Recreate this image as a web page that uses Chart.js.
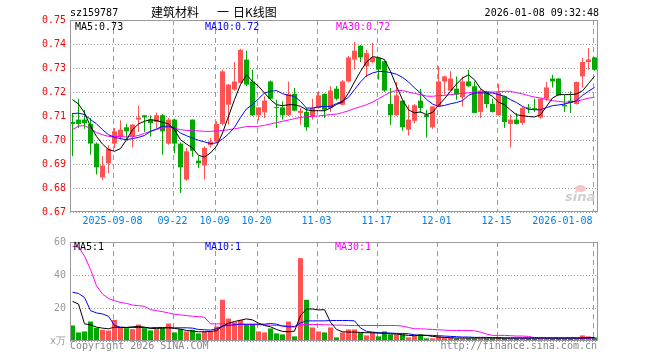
<!DOCTYPE html>
<html>
<head>
<meta charset="utf-8">
<script src="https://cdn.jsdelivr.net/npm/chart.js@4.4.1/dist/chart.umd.min.js"></script>
<style>
  body{margin:0;background:#fff;}
  #box{position:relative;width:660px;height:360px;overflow:hidden;background:#fff;}
  canvas{position:absolute;left:0;}
  .t{position:absolute;font:10px/12px 'DejaVu Sans Mono',monospace;white-space:pre;color:#000;}
  .cn{position:absolute;font:12px/14px 'Noto Sans CJK SC',sans-serif;white-space:pre;color:#000;}
</style>
</head>
<body>
<div id="box">
  <canvas id="kChart" width="660" height="232" style="top:0"></canvas>
  <canvas id="volChart" width="660" height="128" style="top:232px"></canvas>

  <div class="t" style="left:70px;top:7px">sz159787</div>
  <div class="cn" style="left:151px;top:5px">建筑材料</div>
  <div class="cn" style="left:217px;top:5px">一</div>
  <div class="cn" style="left:233px;top:5px">日K线图</div>
  <div class="t" style="right:61px;top:7px">2026-01-08 09:32:48</div>

  <div class="t" style="left:75px;top:21px">MA5:0.73</div>
  <div class="t" style="left:205px;top:21px;color:#00f">MA10:0.72</div>
  <div class="t" style="left:336px;top:21px;color:#f0f">MA30:0.72</div>

  <div class="t" style="left:74px;top:241px">MA5:1</div>
  <div class="t" style="left:205px;top:241px;color:#00f">MA10:1</div>
  <div class="t" style="left:335px;top:241px;color:#f0f">MA30:1</div>

  <div class="t" style="left:70px;top:340px;color:#888">Copyright 2026 SINA.COM</div>
  <div class="t" style="right:63px;top:340px;color:#888">http://finance.sina.com.cn</div>

  <div style="position:absolute;left:575px;top:185px;width:11px;height:7px;border-radius:50%;background:#f6c6c6;"></div>
  <div style="position:absolute;left:565px;top:190px;font:italic bold 13px/14px 'DejaVu Sans',sans-serif;color:#cfcfcf;">sina</div>
</div>

<script>
// trading days shown
const dates = [
  '2025-08-28','2025-08-29',
  '2025-09-01','2025-09-02','2025-09-03','2025-09-04','2025-09-05','2025-09-08','2025-09-09','2025-09-10','2025-09-11','2025-09-12',
  '2025-09-15','2025-09-16','2025-09-17','2025-09-18','2025-09-19','2025-09-22','2025-09-23','2025-09-24','2025-09-25','2025-09-26',
  '2025-09-29','2025-09-30',
  '2025-10-09','2025-10-10','2025-10-13','2025-10-14','2025-10-15','2025-10-16','2025-10-17','2025-10-20','2025-10-21','2025-10-22',
  '2025-10-23','2025-10-24','2025-10-27','2025-10-28','2025-10-29','2025-10-30','2025-10-31',
  '2025-11-03','2025-11-04','2025-11-05','2025-11-06','2025-11-07','2025-11-10','2025-11-11','2025-11-12','2025-11-13','2025-11-14',
  '2025-11-17','2025-11-18','2025-11-19','2025-11-20','2025-11-21','2025-11-24','2025-11-25','2025-11-26','2025-11-27','2025-11-28',
  '2025-12-01','2025-12-02','2025-12-03','2025-12-04','2025-12-05','2025-12-08','2025-12-09','2025-12-10','2025-12-11','2025-12-12',
  '2025-12-15','2025-12-16','2025-12-17','2025-12-18','2025-12-19','2025-12-22','2025-12-23','2025-12-24','2025-12-25','2025-12-26',
  '2025-12-29','2025-12-30','2025-12-31',
  '2026-01-05','2026-01-06','2026-01-07','2026-01-08'
];

const open = [
  0.7075,0.7085,0.7085,0.7067,0.6985,0.6844,0.6903,0.6985,0.7013,0.7053,
  0.7015,0.7085,0.7103,0.7085,0.7075,0.7103,0.6985,0.7085,0.6985,0.6835,
  0.7085,0.6914,0.6894,0.6978,0.6994,0.7067,0.7147,0.7210,0.7238,0.7335,
  0.7244,0.7103,0.7115,0.7244,0.7136,0.7136,0.7103,0.7192,0.7113,0.7117,
  0.7099,0.7133,0.7192,0.7133,0.7214,0.7147,0.7244,0.7335,0.7393,0.7307,
  0.7325,0.7342,0.7328,0.7150,0.7103,0.7164,0.7043,0.7080,0.7164,0.7105,
  0.7053,0.7140,0.7244,0.7206,0.7214,0.7178,0.7244,0.7224,0.7117,0.7203,
  0.7150,0.7103,0.7182,0.7067,0.7085,0.7071,0.7136,0.7133,0.7094,0.7172,
  0.7256,0.7256,0.7147,0.7164,0.7150,0.7265,0.7325,0.7344
];
const high = [
  0.7112,0.7172,0.7126,0.7092,0.6990,0.6932,0.6978,0.7050,0.7082,0.7068,
  0.7068,0.7144,0.7103,0.7103,0.7115,0.7108,0.7092,0.7090,0.6990,0.6967,
  0.7085,0.6932,0.6974,0.7008,0.7078,0.7293,0.7233,0.7325,0.7380,0.7372,
  0.7293,0.7136,0.7182,0.7248,0.7168,0.7161,0.7244,0.7217,0.7133,0.7133,
  0.7172,0.7203,0.7195,0.7224,0.7225,0.7250,0.7350,0.7408,0.7395,0.7376,
  0.7404,0.7345,0.7330,0.7217,0.7242,0.7166,0.7147,0.7150,0.7214,0.7125,
  0.7140,0.7307,0.7268,0.7286,0.7265,0.7265,0.7293,0.7244,0.7214,0.7205,
  0.7172,0.7233,0.7184,0.7106,0.7112,0.7140,0.7150,0.7172,0.7174,0.7242,
  0.7272,0.7258,0.7189,0.7203,0.7244,0.7342,0.7383,0.7346
];
const low = [
  0.6932,0.7050,0.7047,0.6939,0.6856,0.6832,0.6862,0.6967,0.7001,0.7001,
  0.6969,0.7033,0.7033,0.7015,0.7050,0.6939,0.6980,0.6945,0.6779,0.6830,
  0.6930,0.6883,0.6835,0.6969,0.6987,0.7060,0.7064,0.7205,0.7235,0.7225,
  0.7100,0.7081,0.7092,0.7170,0.7050,0.7085,0.7100,0.7120,0.7064,0.7039,
  0.7085,0.7130,0.7092,0.7117,0.7165,0.7145,0.7240,0.7293,0.7325,0.7261,
  0.7320,0.7251,0.7200,0.7064,0.7100,0.7039,0.7019,0.7070,0.7113,0.7010,
  0.7047,0.7138,0.7189,0.7204,0.7168,0.7140,0.7222,0.7111,0.7092,0.7133,
  0.7115,0.7101,0.7050,0.6969,0.7065,0.7064,0.7113,0.7117,0.7089,0.7164,
  0.7219,0.7184,0.7117,0.7113,0.7148,0.7219,0.7293,0.7289
];
const close = [
  0.7067,0.7067,0.7070,0.6985,0.6886,0.6894,0.6964,0.7036,0.7043,0.7036,
  0.7064,0.7094,0.7094,0.7070,0.7103,0.7036,0.7085,0.6985,0.6886,0.6953,
  0.6955,0.6903,0.6967,0.6994,0.7067,0.7286,0.7231,0.7244,0.7376,0.7231,
  0.7103,0.7136,0.7164,0.7172,0.7133,0.7103,0.7192,0.7122,0.7122,0.7053,
  0.7133,0.7186,0.7126,0.7206,0.7172,0.7244,0.7344,0.7372,0.7344,0.7362,
  0.7344,0.7293,0.7206,0.7103,0.7186,0.7053,0.7085,0.7145,0.7133,0.7095,
  0.7140,0.7244,0.7265,0.7256,0.7189,0.7244,0.7224,0.7113,0.7206,0.7150,
  0.7117,0.7196,0.7075,0.7085,0.7067,0.7133,0.7131,0.7126,0.7172,0.7219,
  0.7244,0.7186,0.7140,0.7154,0.7242,0.7325,0.7336,0.7293
];

// price moving averages as drawn
const ma5 = [
  0.7168,0.7150,0.7113,0.7057,0.7015,0.6983,0.6960,0.6953,0.6964,0.7001,
  0.7043,0.7067,0.7078,0.7085,0.7081,0.7074,0.7067,0.7043,0.7001,0.6983,
  0.6967,0.6936,0.6929,0.6946,0.6974,0.7029,0.7099,0.7168,0.7231,0.7272,
  0.7244,0.7224,0.7196,0.7168,0.7147,0.7143,0.7147,0.7147,0.7140,0.7126,
  0.7122,0.7122,0.7122,0.7133,0.7148,0.7158,0.7196,0.7242,0.7286,0.7325,
  0.7347,0.7344,0.7335,0.7286,0.7224,0.7168,0.7126,0.7113,0.7117,0.7106,
  0.7115,0.7144,0.7172,0.7203,0.7233,0.7258,0.7272,0.7251,0.7214,0.7196,
  0.7182,0.7158,0.7147,0.7125,0.7105,0.7101,0.7098,0.7096,0.7105,0.7140,
  0.7175,0.7189,0.7189,0.7189,0.7192,0.7205,0.7235,0.7265
];
const ma10 = [
  0.7110,0.7112,0.7106,0.7085,0.7067,0.7043,0.7022,0.7011,0.7006,0.7001,
  0.7006,0.7011,0.7019,0.7036,0.7046,0.7057,0.7058,0.7050,0.7029,0.7018,
  0.7008,0.6999,0.6992,0.6985,0.6988,0.7004,0.7025,0.7053,0.7094,0.7130,
  0.7147,0.7172,0.7196,0.7203,0.7206,0.7193,0.7186,0.7182,0.7161,0.7133,
  0.7133,0.7138,0.7140,0.7140,0.7152,0.7162,0.7178,0.7210,0.7242,0.7268,
  0.7279,0.7286,0.7285,0.7281,0.7274,0.7261,0.7242,0.7217,0.7196,0.7169,
  0.7150,0.7140,0.7144,0.7151,0.7156,0.7164,0.7186,0.7196,0.7196,0.7196,
  0.7196,0.7189,0.7182,0.7168,0.7156,0.7140,0.7128,0.7126,0.7126,0.7135,
  0.7143,0.7146,0.7150,0.7156,0.7164,0.7186,0.7203,0.7219
];
const ma30 = [
  0.7043,0.7058,0.7060,0.7047,0.7031,0.7022,0.7015,0.7015,0.7014,0.7013,
  0.7014,0.7019,0.7028,0.7036,0.7044,0.7050,0.7053,0.7049,0.7043,0.7040,
  0.7039,0.7038,0.7036,0.7036,0.7038,0.7039,0.7043,0.7047,0.7051,0.7056,
  0.7056,0.7057,0.7061,0.7067,0.7072,0.7078,0.7083,0.7089,0.7094,0.7097,
  0.7099,0.7100,0.7103,0.7106,0.7108,0.7114,0.7122,0.7131,0.7139,0.7147,
  0.7158,0.7172,0.7186,0.7199,0.7206,0.7206,0.7200,0.7194,0.7189,0.7183,
  0.7182,0.7185,0.7186,0.7189,0.7192,0.7194,0.7197,0.7199,0.7200,0.7200,
  0.7200,0.7201,0.7203,0.7203,0.7197,0.7192,0.7185,0.7179,0.7175,0.7169,
  0.7164,0.7161,0.7158,0.7158,0.7161,0.7168,0.7174,0.7178
];

// volume, x万
const vol = [
  9.4,5.2,5.8,11.8,8,6.8,6.4,12.8,8,7.8,
  7.2,10,7.8,6.4,7.2,7.8,10.6,5.2,7.2,5.8,
  6.8,4.6,5.8,5.8,8.8,25,13.6,11.4,12.8,10.2,
  10.2,5.8,5.2,7.6,4.6,4,11.8,2.8,50.2,25,
  8.2,5.8,5.2,8.2,2.2,5.2,7,7,5,3.4,
  5,2.8,5.8,4,4,4,2.2,3.4,4,1.6,
  1.6,2.8,2.2,2.2,1.6,1.6,1.6,1.6,1.6,1.6,
  1.6,2.2,1.6,1.6,1.6,1.6,1.6,1.4,1.4,1.6,
  1.4,1.4,1.2,1.4,1.6,3.4,2.8,2.2
];
const volMa5 = [
  24,22.4,10.4,9.8,8.4,7.8,7.4,8.4,8.2,8.2,
  8.6,8.8,8.4,7.6,7.6,7.8,8,7.6,7.2,6.4,
  6,5.6,5.6,5.8,6.2,9,10.8,11.8,12.6,13.4,
  12.8,10.8,9.4,8.6,7,5.8,5.6,6,15.4,19.4,
  19.4,18.8,19,11.4,7,5.6,5.4,5.4,5.2,5,
  5,4.8,4.6,4.4,4.2,3.8,3.4,3.2,3.6,3.4,
  2.8,2.4,2.2,2,1.8,1.8,1.8,1.8,1.8,1.8,
  1.8,1.8,1.8,1.8,1.8,1.8,1.8,1.8,1.8,1.8,
  1.8,1.8,1.8,1.8,1.8,1.8,2,2.2
];
const volMa10 = [
  29.6,28.8,26.4,18.4,17,16.4,15,9.4,8.4,8.2,
  8.2,8.2,8.2,8,8.2,8.2,8.2,8,8,8,
  7.8,7,6.8,6.6,7.4,9,9.4,9.8,10.2,10.2,
  10.2,10.2,10.2,10.6,10.2,9,8.6,8.6,11,12.2,
  12.2,12.2,12.2,12.4,12.4,12.4,12.4,12.2,7.9,5.8,
  5.4,5,5,4.8,4.6,4.6,4.4,3.8,3.4,3.4,
  3.4,3.2,3,2.8,2.6,2.4,2.4,2.2,2.2,2.2,
  2,2,1.8,1.8,1.8,1.8,1.8,1.8,1.8,1.8,
  1.8,1.8,1.8,1.8,1.8,1.8,1.8,1.8
];
const volMa30 = [
  57.4,57,51.4,43.4,33.4,28.4,25.8,24.4,23.4,22.8,
  21.8,21.4,21,19,18.4,17.8,17,16.2,15.8,15.4,
  15,14.8,14.4,10.4,10.4,10.4,10.2,10.2,10,10,
  10,9.8,9.8,9.6,9.4,9.2,9,8.8,9.8,10,
  10,10,9.8,9.8,9.6,9.6,9.4,9.4,9.4,9.4,
  9.4,9.4,9.4,9.4,9.4,9,8.2,7.4,7.4,7.2,
  7,6.8,6.6,6.4,6.4,6.4,6.4,6.2,5.4,4.2,
  3.4,3.4,3.4,3.2,3,3,2.8,2,1.8,1.8,
  1.8,1.8,1.8,1.8,1.8,1.8,1.8,1.8
];

const tickDates = ['2025-09-08','2025-09-22','2025-10-09','2025-10-20','2025-11-03','2025-11-17','2025-12-01','2025-12-15','2026-01-08'];
const tickText  = ['2025-09-08','09-22','10-09','10-20','11-03','11-17','12-01','12-15','2026-01-08'];
const priceTicks = [0.67,0.68,0.69,0.70,0.71,0.72,0.73,0.74,0.75];
const volTicks = [0,20,40,60];

const RED = '#ff5353', GREEN = '#00a800';
const MONO = "'DejaVu Sans Mono', monospace";
const tickPos = tickDates.map(d => dates.indexOf(d));
const candleColor = close.map((c,i) => c >= open[i] ? RED : GREEN);
const X_MIN = -0.4167, X_MAX = dates.length - 0.4167;

// dotted rows + dashed date columns under the marks, grey frame on top
function makeFrame(rowValues){
  return {
    id:'frame',
    beforeDatasetsDraw(chart){
      const {ctx, chartArea:a} = chart;
      const sx = chart.scales.x, sy = chart.scales.y;
      ctx.save();
      ctx.strokeStyle = '#9a9a9a';
      ctx.lineWidth = 1;
      ctx.setLineDash([1,2]);
      rowValues.forEach(v => {
        const py = Math.round(sy.getPixelForValue(v)) + 0.5;
        ctx.beginPath(); ctx.moveTo(a.left, py); ctx.lineTo(a.right, py); ctx.stroke();
      });
      ctx.setLineDash([5,4]);
      tickPos.forEach(i => {
        const px = Math.round(sx.getPixelForValue(i - 0.33)) + 0.5;
        ctx.beginPath(); ctx.moveTo(px, a.top); ctx.lineTo(px, a.bottom); ctx.stroke();
      });
      ctx.restore();
    },
    afterDraw(chart){
      const {ctx, chartArea:a} = chart;
      ctx.save();
      ctx.strokeStyle = '#999';
      ctx.lineWidth = 1;
      ctx.setLineDash([]);
      ctx.strokeRect(a.left+0.5, a.top+0.5, a.right-a.left-1, a.bottom-a.top-1);
      ctx.restore();
    }
  };
}

function xAxis(showLabels, h){
  return {
    type:'linear', bounds:'data', offset:false, min:X_MIN, max:X_MAX,
    afterBuildTicks: s => { s.ticks = tickPos.map(i => ({value:i-0.33})); },
    afterFit: s => { s.height = h; },
    grid:{display:false, offset:false, drawTicks:false},
    border:{display:false},
    ticks:{
      display:showLabels, autoSkip:false, maxRotation:0, padding:3,
      color:'#0080e0', font:{family:MONO, size:10},
      // last label sits left of its line
      callback:(v,i) => i === tickText.length-1 ? tickText[i] + ' '.repeat(10) : tickText[i]
    }
  };
}

const line = (data, color) => ({
  type:'line', data:data.map((v,i)=>({x:i,y:v})),
  borderColor:color, borderWidth:1, pointRadius:0, tension:0, order:0
});

new Chart(document.getElementById('kChart').getContext('2d'), {
  data:{
    datasets:[
      {type:'bar', data:dates.map((d,i)=>({x:i,y:[low[i],high[i]]})),
       backgroundColor:candleColor, barThickness:1, grouped:false, inflateAmount:0, order:2},
      {type:'bar', data:dates.map((d,i)=>({x:i,y:[open[i],close[i]]})),
       backgroundColor:candleColor, barThickness:5, minBarLength:1, grouped:false, inflateAmount:0, order:1},
      line(ma5,'#000'),
      line(ma10,'#00f'),
      line(ma30,'#f0f')
    ]
  },
  options:{
    responsive:false, devicePixelRatio:1, animation:false, events:[],
    layout:{padding:{left:0,right:62,top:20,bottom:0}},
    plugins:{legend:{display:false}, tooltip:{enabled:false}},
    scales:{
      x:xAxis(true, 20),
      y:{
        min:0.67, max:0.75,
        afterBuildTicks: s => { s.ticks = priceTicks.map(v => ({value:v})); },
        afterFit: s => { s.width = 70; },
        grid:{display:false, drawTicks:false},
        border:{display:false},
        ticks:{color:'#f00', padding:4, font:{family:MONO, size:10}, callback:v => v.toFixed(2)}
      }
    }
  },
  plugins:[makeFrame(priceTicks)]
});

new Chart(document.getElementById('volChart').getContext('2d'), {
  data:{
    datasets:[
      {type:'bar', data:vol.map((v,i)=>({x:i,y:v})),
       backgroundColor:candleColor, barThickness:5, inflateAmount:0, order:1},
      line(volMa5,'#000'),
      line(volMa10,'#00f'),
      line(volMa30,'#f0f')
    ]
  },
  options:{
    responsive:false, devicePixelRatio:1, animation:false, events:[],
    layout:{padding:{left:0,right:62,top:8,bottom:0}},
    plugins:{legend:{display:false}, tooltip:{enabled:false}},
    scales:{
      x:xAxis(false, 19),
      y:{
        min:0, max:60,
        afterBuildTicks: s => { s.ticks = volTicks.map(v => ({value:v})); },
        afterFit: s => { s.width = 70; },
        grid:{display:false, drawTicks:false},
        border:{display:false},
        ticks:{color:'#999', padding:4, font:{family:MONO, size:10}, callback:v => v === 0 ? 'x万' : String(v)}
      }
    }
  },
  plugins:[makeFrame(volTicks)]
});
</script>
</body>
</html>
